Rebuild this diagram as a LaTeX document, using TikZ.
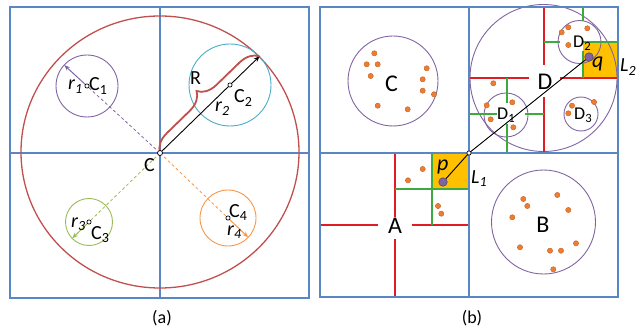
\documentclass[tikz,border=0pt]{standalone}
\usepackage{fontspec}
\setmainfont{Carlito}
\usetikzlibrary{arrows.meta,calc,decorations.pathreplacing}
\definecolor{qblue}{RGB}{88,135,196}
\definecolor{redc}{RGB}{192,80,77}
\definecolor{purp}{RGB}{128,100,162}
\definecolor{cyanc}{RGB}{75,172,198}
\definecolor{greenc}{RGB}{155,187,89}
\definecolor{orangec}{RGB}{247,150,70}
\definecolor{lred}{RGB}{222,30,36}
\definecolor{lgreen}{RGB}{60,170,60}
\definecolor{gold}{RGB}{255,192,0}
\definecolor{dotfill}{RGB}{237,125,49}
\definecolor{dotedge}{RGB}{205,105,40}
\begin{document}
\begin{tikzpicture}[x=1pt,y=-1pt,
  bl/.style={draw=qblue, line width=1.6pt},
  lbl/.style={inner sep=0pt, anchor=base west, font=\fontsize{20}{20}\selectfont},
  big/.style={inner sep=0pt, font=\fontsize{24}{24}\selectfont},
  sub/.style={inner sep=0pt, anchor=base west, font=\fontsize{18}{18}\selectfont},
  captxt/.style={inner sep=0pt, font=\fontsize{18}{18}\selectfont},
  mk/.style={circle, draw=black, fill=white, line width=0.7pt, inner sep=0pt, minimum size=4.2pt},
  dot/.style={circle, fill=dotfill, draw=dotedge, line width=0.5pt, inner sep=0pt, minimum size=5.2pt},
  pt/.style={circle, fill=purp, draw=purp!70!black, line width=0.6pt, inner sep=0pt, minimum size=8.5pt},
  dsh/.style={dash pattern=on 3pt off 2.5pt, line width=0.8pt},
  arr/.style={line width=1pt, -{Stealth[length=6pt,width=4.5pt]}},
  rl/.style={draw=lred, line width=1.3pt},
  gl/.style={draw=lgreen, line width=1.4pt}]
\useasboundingbox (0,0) rectangle (642,331);

% ---------------- panel (a) ----------------
\draw[bl] (10,7) rectangle (309,298);
\draw[bl] (160,7) -- (160,298);
\draw[bl] (10,153) -- (309,153);
\coordinate (C) at (160,153);
\coordinate (C1) at (87,86);
\coordinate (C2) at (230,85);
\coordinate (C3) at (89,222);
\coordinate (C4) at (228,218);
\draw[redc, line width=1.3pt] (160,152) ellipse [x radius=139, y radius=136];
\draw[purp, line width=0.9pt] (C1) circle [radius=31];
\draw[cyanc, line width=0.9pt] (C2) circle [radius=41];
\draw[greenc, line width=0.9pt] (C3) circle [radius=23.5];
\draw[orangec, line width=0.9pt] (C4) circle [radius=28];
\draw[purp, dsh] (C) -- (C1);
\draw[greenc, dsh] (C) -- (C3);
\draw[orangec, dsh] (C) -- (C4);
\draw[purp, arr] (C1) -- ($(C1)!-31pt!(C)$);
\draw[greenc, arr] (C3) -- ($(C3)!-23.5pt!(C)$);
\draw[orangec, arr] (C4) -- ($(C4)!-28pt!(C)$);
\coordinate (T) at ($(C)!139pt!(C2)$);
\draw[black, arr, line width=0.9pt] (C) -- (T);
\draw[redc, line width=1.8pt, decorate, decoration={brace, amplitude=19pt}] (C) -- (T);
\node[mk, minimum size=5pt] (mC) at (C) {};
\node[mk] (mC1) at (C1) {};
\node[mk] (mC2) at (C2) {};
\node[mk] (mC3) at (C3) {};
\node[mk] (mC4) at (C4) {};
\node[lbl] (lr1) at (68,90) {\textit{r}\textsubscript{\textit{1}}};
\node[lbl] (lC1) at (89,91) {C\textsubscript{1}};
\node[lbl] (lC) at (144,172) {C};
\node[lbl] (lR) at (190,85) {R};
\node[lbl] (lr2) at (215,112) {\textit{r}\textsubscript{\textit{2}}};
\node[lbl] (lC2) at (234,103) {C\textsubscript{2}};
\node[lbl] (lr3) at (71,227) {\textit{r}\textsubscript{\textit{3}}};
\node[lbl] (lC3) at (91,239) {C\textsubscript{3}};
\node[lbl] (lC4) at (229,217) {C\textsubscript{4}};
\node[lbl] (lr4) at (227,235) {\textit{r}\textsubscript{\textit{4}}};
\node[captxt] (capa) at (162,318) {(a)};

% ---------------- panel (b) ----------------
\fill[gold] (432,153) rectangle (469,189);
\fill[gold] (583,42) rectangle (618,78);
% circles
\draw[purp, line width=0.9pt] (393,81) circle [radius=45];
\draw[purp, line width=0.9pt] (543.5,78) circle [radius=73.5];
\draw[purp, line width=0.9pt] (543.5,222) circle [radius=52];
\draw[purp, line width=0.9pt] (506,115) circle [radius=22];
\draw[purp, line width=0.9pt] (579.5,42) circle [radius=21.5];
\draw[purp, line width=0.9pt] (581,114) circle [radius=17];
% A quadrant
\draw[rl] (395,153) -- (395,217);
\draw[rl] (395,239) -- (395,297);
\draw[rl] (320,225) -- (378,225);
\draw[rl] (412,225) -- (469,225);
\draw[gl] (432,153) -- (432,225);
\draw[gl] (395,189) -- (469,189);
% D quadrant
\draw[rl] (544,7) -- (544,65);
\draw[rl] (544,97) -- (544,153);
\draw[rl] (469,78) -- (529,78);
\draw[rl] (560,78) -- (618,78);
\draw[gl] (583,7) -- (583,21);
\draw[gl] (583,51) -- (583,78);
\draw[gl] (544,42) -- (560,42);
\draw[gl] (583,42) -- (618,42);
\draw[gl] (507,78) -- (507,103);
\draw[gl] (507,124) -- (507,153);
\draw[gl] (469,114) -- (497,114);
\draw[gl] (525,114) -- (544,114);
% frame
\draw[bl] (320,7) rectangle (618,297);
\draw[bl] (469,7) -- (469,297);
\draw[bl] (320,153) -- (618,153);
% dots
\foreach \x/\y [count=\i] in {374.3/53.3, 366.7/64.3, 377.7/64.3, 370.7/76, 426.7/68.3, 422.7/79.3, 422.7/90.7, 434/94.3, 377.7/105.7, 407.7/109.3,
  422.7/169, 408/180.3, 438/206, 441.3/213.7,
  557.3/195, 523.3/199, 527.3/206, 568.3/210, 512.3/217.3, 576/243.3, 520/247.3, 550/250.7, 561/250.7, 553.3/269.3,
  493.3/83.3, 512.3/102.3, 486.7/105.3, 490.7/119.3, 513.3/127.3,
  594/102, 572/105.7, 568.3/113.3,
  561.7/32.3, 568.3/27.3, 587.3/28.3, 568.3/45}
  \node[dot] (dt\i) at (\x,\y) {};
% p-q line
\coordinate (pc) at (443,182);
\coordinate (oc) at (469,153);
\coordinate (qc) at (589,57);
\draw[black, line width=0.9pt] (pc) -- (oc) -- (qc);
\node[mk] (o) at (oc) {};
\node[pt] (p) at (pc) {};
\node[pt] (q) at (qc) {};
% labels
\node[big, anchor=base west] (lbC) at (385,92) {C};
\node[big] (lA) at (395,226) {A};
\node[big] (lB) at (543,225) {B};
\node[big] (lD) at (545,82) {D};
\node[sub] (lD1) at (497,120) {D\textsubscript{1}};
\node[sub] (lD2) at (573,48) {D\textsubscript{2}};
\node[sub] (lD3) at (574,120) {D\textsubscript{3}};
\node[inner sep=0pt, anchor=base west, font=\fontsize{22}{22}\selectfont\itshape] (lp) at (437,171) {p};
\node[inner sep=0pt, anchor=base west, font=\fontsize{22}{22}\selectfont\itshape] (lq) at (592,68) {q};
\node[lbl, font=\fontsize{20}{20}\selectfont\itshape] (lL1) at (471,183) {L\textsubscript{1}};
\node[lbl, font=\fontsize{20}{20}\selectfont\itshape] (lL2) at (620,72) {L\textsubscript{2}};
\node[captxt] (capb) at (472,318) {(b)};
\end{tikzpicture}
\end{document}
